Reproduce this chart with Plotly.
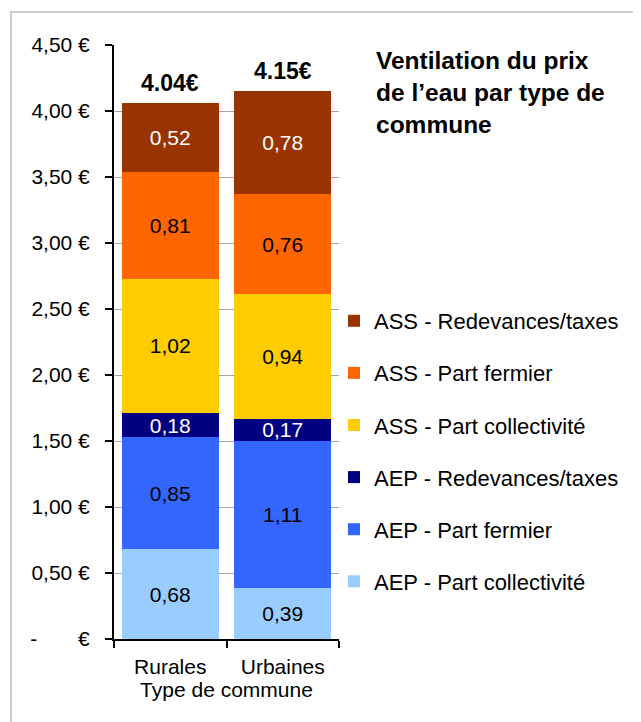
import plotly.graph_objects as go

# data
communes = ["Rurales", "Urbaines"]
series_names = [
    "AEP - Part collectivité",
    "AEP - Part fermier",
    "AEP - Redevances/taxes",
    "ASS - Part collectivité",
    "ASS - Part fermier",
    "ASS - Redevances/taxes",
]
aep_collectivite = [0.68, 0.39]
aep_fermier = [0.85, 1.11]
aep_redevances = [0.18, 0.17]
ass_collectivite = [1.02, 0.94]
ass_fermier = [0.81, 0.76]
ass_redevances = [0.52, 0.78]
total_labels = ["4.04€", "4.15€"]
tick_vals = [0, 0.5, 1, 1.5, 2, 2.5, 3, 3.5, 4, 4.5]
tick_text = ["-\u00a0\u00a0\u00a0\u00a0\u00a0\u00a0\u00a0€", "0,50 €", "1,00 €", "1,50 €", "2,00 €",
             "2,50 €", "3,00 €", "3,50 €", "4,00 €", "4,50 €"]

series = [aep_collectivite, aep_fermier, aep_redevances,
          ass_collectivite, ass_fermier, ass_redevances]
colors = ["#99CCFF", "#3366FF", "#000080", "#FFCC00", "#FF6600", "#993300"]
text_colors = ["black", "black", "white", "black", "black", "white"]

FONT = "Arial, Liberation Sans, sans-serif"

fig = go.Figure()
n = len(series_names)
for i, (name, vals) in enumerate(zip(series_names, series)):
    fig.add_bar(
        x=communes, y=vals, name=name,
        marker=dict(color=colors[i], line=dict(width=0)),
        text=[f"{v:.2f}".replace(".", ",") for v in vals],
        textposition="inside", insidetextanchor="middle",
        textangle=0, constraintext="none",
        textfont=dict(color=text_colors[i], size=21, family=FONT),
        legendgroup=name, legendrank=n - i, hoverinfo="skip",
    )

totals = [sum(s[j] for s in series) for j in range(len(communes))]
for j, c in enumerate(communes):
    fig.add_annotation(x=c, y=totals[j], text=f"<b>{total_labels[j]}</b>",
                       showarrow=False, yanchor="bottom", yshift=5,
                       font=dict(size=23, color="black", family=FONT))

# outer frame (only top and left edges visible in the reference)
fig.add_shape(type="rect", xref="paper", yref="paper",
              x0=(11 - 114) / 225, x1=(660 - 114) / 225,
              y0=(639 - 740) / 594, y1=(639 - 12) / 594,
              line=dict(color="#BFBFBF", width=1.5), fillcolor="rgba(0,0,0,0)",
              layer="below")

# the page body adds 8px, so margins are 8px smaller than the reference positions
fig.update_layout(
    width=641, height=722,
    margin=dict(l=106, r=310, t=37, b=91),
    barmode="stack", bargap=0.14,
    paper_bgcolor="white", plot_bgcolor="white",
    font=dict(family=FONT, size=21, color="black"),
    title=dict(text="<b>Ventilation du prix<br>de l’eau par type de<br>commune</b>",
               x=368 / 641, xanchor="left", xref="container",
               y=1 - 61 / 722, yanchor="top", yref="container",
               font=dict(size=24.5, color="black", family=FONT)),
    legend=dict(traceorder="grouped", tracegroupgap=20.5,
                x=(334 - 114) / 225, xanchor="left",
                y=(639 - 300) / 594, yanchor="top",
                font=dict(size=22, family=FONT), bgcolor="rgba(0,0,0,0)",
                itemwidth=30),
    yaxis=dict(range=[0, 4.5], tickvals=tick_vals, ticktext=tick_text,
               showgrid=True, gridcolor="#A6A6A6", gridwidth=1.2,
               showline=True, linecolor="black", linewidth=2,
               ticks="outside", ticklen=7, tickwidth=2, tickcolor="black",
               ticklabelstandoff=11, zeroline=False),
    xaxis=dict(showline=True, linecolor="black", linewidth=2,
               ticks="outside", ticklen=7, tickwidth=2, tickcolor="black",
               tickson="boundaries", ticklabelstandoff=8,
               title=dict(text="Type de commune", standoff=3,
                          font=dict(size=21, family=FONT))),
)

fig.write_html("out.html")
